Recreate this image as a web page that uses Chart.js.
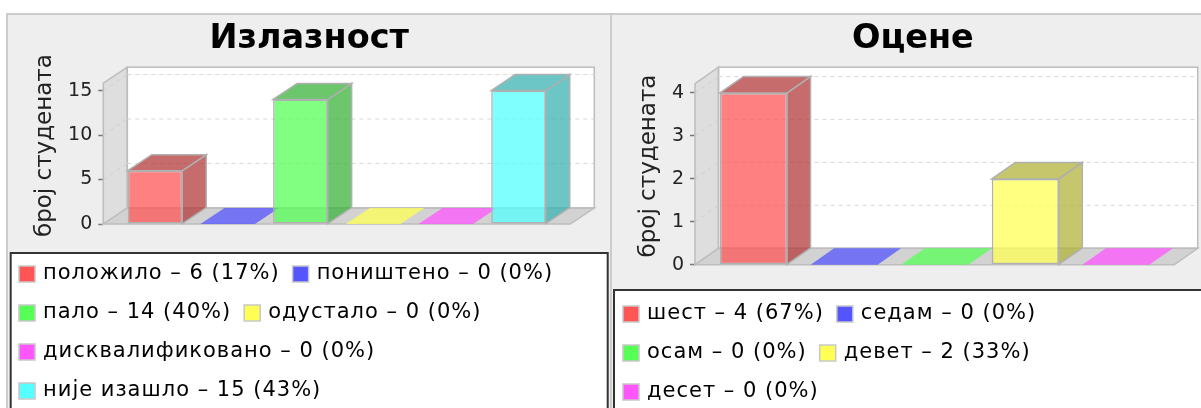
<!DOCTYPE html>
<html>
<head>
<meta charset="utf-8">
<title>Излазност и оцене</title>
<script src="https://cdn.jsdelivr.net/npm/chart.js@4/dist/chart.umd.min.js"></script>
<style>
  html, body { margin: 0; padding: 0; width: 1201px; height: 408px; overflow: hidden; background: #fff; }
  .panel { position: absolute; top: 13px; height: 420px; background: #eee; border: 2px solid #ccc; box-sizing: border-box; }
  #panelLeft { left: 6px; width: 606px; }
  #panelRight { left: 610px; width: 620px; }
  canvas { position: absolute; top: 13px; filter: blur(0.4px); }
  #izlaznost { left: 6px; }
  #ocene { left: 610px; }
</style>
</head>
<body>
<div class="panel" id="panelLeft"></div>
<div class="panel" id="panelRight"></div>
<canvas id="izlaznost" width="604" height="401"></canvas>
<canvas id="ocene" width="606" height="402"></canvas>

<script>
var izlaznostTitle = "Излазност";
var izlaznostLabels = ["положило", "поништено", "пало", "одустало", "дисквалификовано", "није изашло"];
var izlaznostValues = [6, 0, 14, 0, 0, 15];
var izlaznostPercent = [17, 0, 40, 0, 0, 43];
var izlaznostColors = ["#FF5555", "#5555FF", "#55FF55", "#FFFF55", "#FF55FF", "#55FFFF"];

var oceneTitle = "Оцене";
var oceneLabels = ["шест", "седам", "осам", "девет", "десет"];
var oceneValues = [4, 0, 0, 2, 0];
var ocenePercent = [67, 0, 0, 33, 0];
var oceneColors = ["#FF5555", "#5555FF", "#55FF55", "#FFFF55", "#FF55FF"];

var axisTitle = "број студената";
var fontName = "'DejaVu Sans'";

function rgba(hex, a, k) {
  var r = parseInt(hex.substr(1, 2), 16) * k;
  var g = parseInt(hex.substr(3, 2), 16) * k;
  var b = parseInt(hex.substr(5, 2), 16) * k;
  return "rgba(" + Math.round(r) + "," + Math.round(g) + "," + Math.round(b) + "," + a + ")";
}

function poly(ctx, pts, fill, stroke) {
  ctx.beginPath();
  ctx.moveTo(pts[0][0], pts[0][1]);
  for (let i = 1; i < pts.length; i++) {
    ctx.lineTo(pts[i][0], pts[i][1]);
  }
  ctx.closePath();
  if (fill) {
    ctx.fillStyle = fill;
    ctx.fill();
  }
  if (stroke) {
    ctx.strokeStyle = stroke;
    ctx.stroke();
  }
}

// legend text is set wider than the font gives, only the legend gets the spacing
function spaced(legend, name) {
  var orig = legend[name];
  legend[name] = function (a) {
    legend.ctx.letterSpacing = '1px';
    var res = orig.call(legend, a);
    legend.ctx.letterSpacing = '0px';
    return res;
  };
}

// walls, floor and the side/top faces of the bars, the library only draws the front face
const box3d = {
  id: 'box3d',
  beforeLayout(chart) {
    if (!chart.legend._spaced) {
      chart.legend._spaced = true;
      spaced(chart.legend, 'fit');
      spaced(chart.legend, 'draw');
    }
  },
  afterLayout(chart, args, opts) {
    // title is centred on the whole panel, not on the padded part
    chart.titleBlock.left += opts.titleShift;
    chart.titleBlock.right += opts.titleShift;
  },
  beforeDraw(chart, args, opts) {
    // white legend box, it runs off the bottom of the page
    var ctx = chart.ctx;
    ctx.save();
    ctx.fillStyle = '#fff';
    ctx.strokeStyle = '#333';
    ctx.lineWidth = 2;
    ctx.fillRect(opts.boxLeft, chart.legend.top + opts.boxGap, opts.boxWidth, 300);
    ctx.strokeRect(opts.boxLeft, chart.legend.top + opts.boxGap, opts.boxWidth, 300);
    ctx.restore();
  },
  beforeDatasetsDraw(chart, args, opts) {
    var ctx = chart.ctx;
    var a = chart.chartArea;
    var y = chart.scales.y;
    var dx = opts.dx, dy = opts.dy;
    var line = '#bdbdbd';

    ctx.save();
    ctx.lineWidth = 1.5;
    ctx.fillStyle = '#fff';
    ctx.fillRect(a.left + dx, a.top, a.width - dx, a.height - dy);
    poly(ctx, [[a.left, a.top + dy], [a.left + dx, a.top], [a.left + dx, a.bottom - dy], [a.left, a.bottom]], '#dedede', line);
    poly(ctx, [[a.left, a.bottom], [a.left + dx, a.bottom - dy], [a.right, a.bottom - dy], [a.right - dx, a.bottom]], '#d2d2d2', line);
    ctx.strokeStyle = line;
    ctx.strokeRect(a.left + dx, a.top, a.width - dx, a.height - dy);

    ctx.lineWidth = 1;
    ctx.setLineDash([4, 4]);
    y.ticks.forEach(function (t) {
      if (t.value === 0) return;
      var py = y.getPixelForValue(t.value);
      ctx.strokeStyle = '#d8d8d8';
      ctx.beginPath();
      ctx.moveTo(a.left + dx, py - dy);
      ctx.lineTo(a.right, py - dy);
      ctx.stroke();
      ctx.strokeStyle = '#d0d0d0';
      ctx.beginPath();
      ctx.moveTo(a.left, py);
      ctx.lineTo(a.left + dx, py - dy);
      ctx.stroke();
    });
    ctx.setLineDash([]);

    ctx.lineWidth = 1.5;
    var colors = chart.data.datasets[0].faceColors;
    chart.getDatasetMeta(0).data.forEach(function (bar, i) {
      var l = bar.x - bar.width / 2, r = bar.x + bar.width / 2;
      var top = bar.y, base = bar.base;
      if (top === base) {
        poly(ctx, [[l, base], [l + dx, base - dy], [r + dx, base - dy], [r, base]], rgba(colors[i], 0.75, 1), null);
        return;
      }
      var dark = rgba(colors[i], 0.75, 0.7);
      poly(ctx, [[r, top], [r + dx, top - dy], [r + dx, base - dy], [r, base]], dark, '#b0b0b0');
      poly(ctx, [[l, top], [l + dx, top - dy], [r + dx, top - dy], [r, top]], dark, '#b0b0b0');
    });
    ctx.restore();
  },
  afterDraw(chart) {
    // legend swatches
    var ctx = chart.ctx;
    var colors = chart.data.datasets[0].faceColors;
    ctx.save();
    ctx.lineWidth = 1.5;
    chart.legend.legendHitBoxes.forEach(function (hit, i) {
      ctx.fillStyle = colors[i];
      ctx.strokeStyle = '#c8c8c8';
      ctx.fillRect(hit.left, hit.top + 5, 16, 16);
      ctx.strokeRect(hit.left, hit.top + 5, 16, 16);
    });
    ctx.restore();
  }
};

function makeChart(id, title, names, values, percents, colors, cfg) {
  return new Chart(document.getElementById(id), {
    type: 'bar',
    data: {
      datasets: [{
        data: values.map(function (v, i) { return { x: i, y: v }; }),
        faceColors: colors,
        backgroundColor: colors.map(function (c) { return rgba(c, 0.75, 1); }),
        borderColor: '#b0b0b0',
        borderWidth: 1.5,
        borderSkipped: false,
        categoryPercentage: cfg.barShare,
        barPercentage: 1
      }]
    },
    options: {
      responsive: false,
      animation: false,
      events: [],
      layout: { padding: { right: cfg.padRight } },
      scales: {
        x: {
          type: 'linear',
          offset: false,
          min: cfg.xMin,
          max: cfg.xMax,
          grid: { display: false, offset: false },
          border: { display: false },
          ticks: { display: false },
          afterBuildTicks: function (s) {
            // the ruler takes bar width from tick spacing, so whole categories only
            s.ticks = values.map(function (v, i) { return { value: i }; });
          },
          afterFit: function (s) { s.height = cfg.axisGap; }
        },
        y: {
          min: 0,
          max: cfg.yMax,
          afterFit: function (s) { s.width = cfg.axisWidth; },
          afterBuildTicks: function (s) {
            s.ticks = s.ticks.filter(function (t) { return t.value % cfg.step === 0; });
          },
          grid: { display: true, drawOnChartArea: false, drawTicks: true, tickLength: 5, color: '#777', tickWidth: 1.5 },
          border: { display: false },
          ticks: {
            stepSize: cfg.step,
            padding: 6,
            color: '#222',
            font: { family: fontName, size: 19 }
          },
          title: {
            display: true,
            text: axisTitle,
            color: '#222',
            padding: { top: cfg.axisTitlePad, bottom: 0 },
            font: { family: fontName, size: 23 }
          }
        }
      },
      plugins: {
        box3d: { dx: cfg.dx, dy: cfg.dy, boxLeft: cfg.boxLeft, boxWidth: cfg.boxWidth, boxGap: cfg.boxGap, titleShift: 9 },
        tooltip: { enabled: false },
        title: {
          display: true,
          text: title,
          color: '#000',
          padding: { top: 6, bottom: 8 },
          font: { family: fontName, size: 33.5, weight: 'bold' }
        },
        legend: {
          display: true,
          position: 'bottom',
          align: 'start',
          labels: {
            boxWidth: 13.5,
            boxHeight: 26,
            padding: 13,
            color: '#222',
            font: { family: fontName, size: 21 },
            generateLabels: function () {
              return names.map(function (n, i) {
                return {
                  text: n + " – " + values[i] + " (" + percents[i] + "%)",
                  fillStyle: 'transparent',
                  strokeStyle: 'transparent',
                  lineWidth: 0,
                  hidden: false,
                  index: i
                };
              });
            }
          }
        }
      }
    },
    plugins: [box3d]
  });
}

makeChart("izlaznost", izlaznostTitle, izlaznostLabels, izlaznostValues, izlaznostPercent, izlaznostColors, {
  padRight: 15.7, xMin: -0.711, xMax: 6.043, yMax: 17.63, step: 5, barShare: 0.75,
  axisGap: 24, axisWidth: 97.3, axisTitlePad: 25, dx: 24, dy: 16,
  boxLeft: 4.7, boxWidth: 597, boxGap: 5
});

makeChart("ocene", oceneTitle, oceneLabels, oceneValues, ocenePercent, oceneColors, {
  padRight: 18.3, xMin: -0.646, xMax: 4.903, yMax: 4.6, step: 1, barShare: 0.74,
  axisGap: 23.2, axisWidth: 85, axisTitlePad: 25, dx: 23.5, dy: 16.5,
  boxLeft: 4, boxWidth: 620, boxGap: 2
});
</script>
</body>
</html>
